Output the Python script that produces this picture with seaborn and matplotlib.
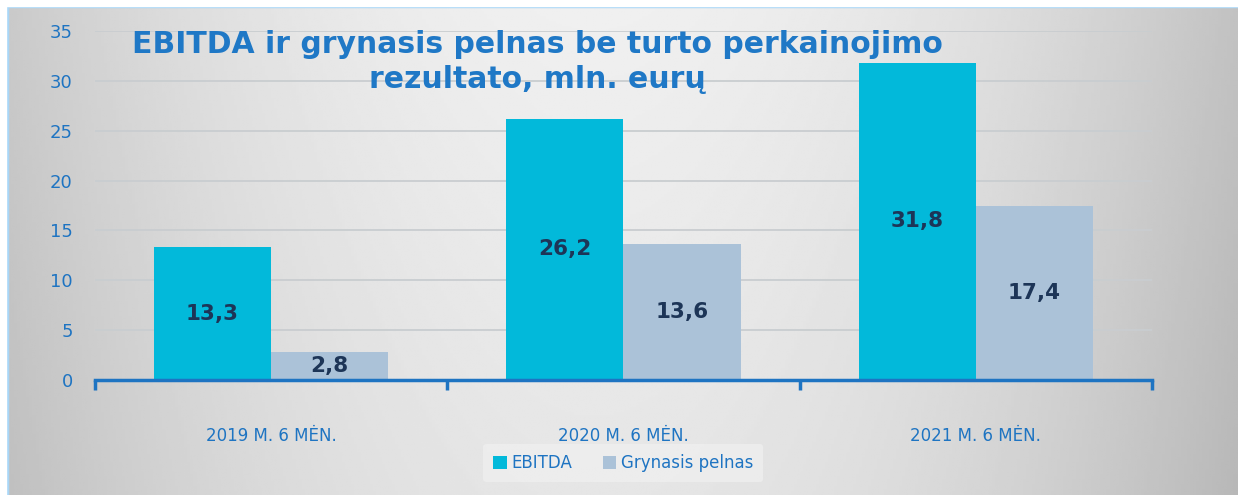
import numpy as np
import pandas as pd
import seaborn as sns
import matplotlib.pyplot as plt
from matplotlib.patches import Rectangle

periods = ["2019 M. 6 MĖN.", "2020 M. 6 MĖN.", "2021 M. 6 MĖN."]
ebitda = [13.3, 26.2, 31.8]
pelnas = [2.8, 13.6, 17.4]
series = ["EBITDA", "Grynasis pelnas"]
colors = ["#02B9DA", "#ABC2D8"]
blue = "#1E74C2"

df = pd.DataFrame({
    "period": periods * 2,
    "value": ebitda + pelnas,
    "series": [series[0]] * 3 + [series[1]] * 3,
})

sns.set_style("white")
plt.rcParams["font.family"] = ["DejaVu Sans"]

fig = plt.figure(figsize=(12.38, 4.95), dpi=100)

# gradient background
bg = fig.add_axes([0, 0, 1, 1], zorder=-10)
xx, yy = np.meshgrid(np.linspace(0, 1, 400), np.linspace(0, 1, 200))
shade = 0.94 - 0.20 * ((xx - 0.48) / 0.55) ** 2 - 0.04 * yy
bg.imshow(shade, cmap="gray", vmin=0, vmax=1, extent=[0, 1, 0, 1], aspect="auto", origin="upper")
bg.add_patch(Rectangle((0.006, -0.01), 1.0, 0.998, fill=False, edgecolor="#A8D6F7", lw=2.5,
                       transform=bg.transAxes))
bg.add_patch(Rectangle((0, 0), 0.005, 1, color="white", transform=bg.transAxes))
bg.add_patch(Rectangle((0, 0.988), 1, 0.02, color="white", transform=bg.transAxes))
bg.set_xlim(0, 1)
bg.set_ylim(0, 1)
bg.axis("off")

ax = fig.add_axes([0.0767, 0.2323, 0.8538, 0.7051])
ax.patch.set_alpha(0)
sns.barplot(data=df, x="period", y="value", hue="series", palette=colors, saturation=1,
            width=0.665, ax=ax, legend=True, linewidth=0, edgecolor="none")

for cont, vals in zip(ax.containers, [ebitda, pelnas]):
    ax.bar_label(cont, labels=[f"{v:.1f}".replace(".", ",") for v in vals], label_type="center",
                 fontsize=15.5, fontweight="bold", color="#1D3557")

ax.set_ylim(0, 35)
ax.set_xlim(-0.5, 2.5)
ax.set_yticks(range(0, 36, 5))
ax.yaxis.grid(True, color="#C9CDD0", lw=1.3)
ax.set_axisbelow(True)
for s in ["top", "right", "left"]:
    ax.spines[s].set_visible(False)
ax.spines["bottom"].set_color(blue)
ax.spines["bottom"].set_linewidth(2.5)
ax.set_xlabel("")
ax.set_ylabel("")
ax.tick_params(axis="y", length=0, pad=16, labelsize=13, labelcolor=blue)
ax.tick_params(axis="x", which="major", length=0, pad=34, labelsize=12, labelcolor=blue)
ax.set_xticks([-0.5, 0.5, 1.5, 2.5], minor=True)
ax.tick_params(axis="x", which="minor", bottom=True, length=7, width=2.5, color=blue)

leg = ax.legend(loc="center", bbox_to_anchor=(0.5, -0.238), ncol=2, frameon=True, fontsize=12,
                handlelength=0.8, handleheight=0.8, handletextpad=0.3, columnspacing=1.8,
                borderpad=0.6)
leg.get_frame().set_facecolor("#F0F0F0")
leg.get_frame().set_alpha(0.7)
leg.get_frame().set_edgecolor("none")
for t in leg.get_texts():
    t.set_color(blue)

fig.text(0.434, 0.874, "EBITDA ir grynasis pelnas be turto perkainojimo\nrezultato, mln. eurų",
         ha="center", va="center", multialignment="center", fontsize=21.5, fontweight="bold",
         color="#1F78C6", linespacing=1.25)

fig.savefig("out.png", dpi=100)
